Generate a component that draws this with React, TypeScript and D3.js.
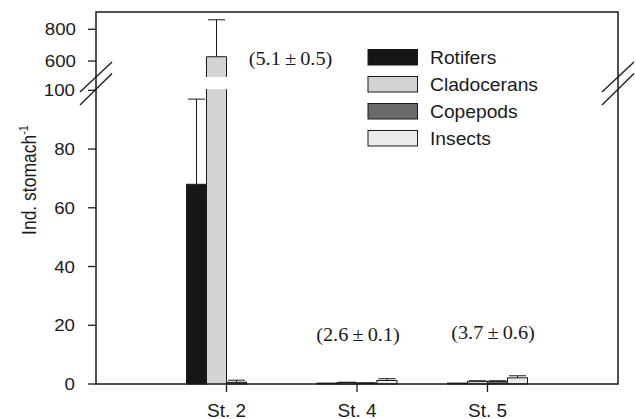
import React from "react";
import * as d3 from "d3";

// stations and prey groups
const stations = ["St. 2", "St. 4", "St. 5"];
const taxa = ["Rotifers", "Cladocerans", "Copepods", "Insects"];

// mean individuals per stomach, per station
const rotifers = [68, 0.3, 0.3];
const cladocerans = [627, 0.5, 0.9];
const copepods = [0.6, 0.3, 0.9];
const insects = [0, 1.2, 2.1];

// standard errors
const rotifersErr = [29, 0, 0];
const cladoceransErr = [233, 0.1, 0.2];
const copepodsErr = [0.7, 0.1, 0.2];
const insectsErr = [0, 0.6, 0.7];

const lowerTicks = [0, 20, 40, 60, 80, 100];
const upperTicks = [600, 800];
const totals = ["(5.1\u2009\u00b1\u20090.5)", "(2.6\u2009\u00b1\u20090.1)", "(3.7\u2009\u00b1\u20090.6)"];

const colors = ["#161616", "#d4d4d4", "#6a6a6a", "#ebebeb"];
const means = [rotifers, cladocerans, copepods, insects];
const errs = [rotifersErr, cladoceransErr, copepodsErr, insectsErr];

const W = 636;
const H = 419;
const left = 96;
const right = 618;
const top = 12;
const bottom = 384;
const lowerMax = 100.4;
const upperMin = 500;

const sans = "'Liberation Sans', Arial, sans-serif";
const serif = "'Liberation Serif', 'Times New Roman', serif";

const x = d3.scalePoint<string>().domain(stations).range([left, right]).padding(1);
const inner = d3.scaleBand<string>().domain(taxa).range([-40, 40]);
const yLow = d3.scaleLinear().domain([0, 100]).range([bottom, 90.3]);
const yUp = d3.scaleLinear().domain([upperMin, 909]).range([76.9, top]);
const y = (v: number) => (v <= lowerMax ? yLow(v) : yUp(v));

// annotation placement relative to station centre
const noteDx = [64, 1, 5.5];
const noteY = [65, 341, 339];

const Txt = ({ x0, y0, size, anchor, family, sx = 1.1, children }: any) => (
  <text
    transform={`translate(${x0},${y0}) scale(${sx},1)`}
    fontSize={size}
    fontFamily={family}
    textAnchor={anchor}
    fill="#1a1a1a"
  >
    {children}
  </text>
);

const Bars = () => {
  const out: any[] = [];
  stations.forEach((st, si) => {
    taxa.forEach((t, ti) => {
      const v = means[ti][si];
      const e = errs[ti][si];
      if (v <= 0) return;
      const x0 = x(st)! + inner(t)!;
      const bw = inner.bandwidth();
      const cx = x0 + bw / 2;
      const key = `${si}-${ti}`;
      if (v > lowerMax) {
        const lt = yLow(lowerMax);
        const ub = yUp(upperMin);
        const ut = yUp(v);
        out.push(
          <g key={key}>
            <rect x={x0} y={lt} width={bw} height={bottom - lt} fill={colors[ti]} />
            <path d={`M${x0},${bottom}V${lt}M${x0 + bw},${lt}V${bottom}`} stroke="#1a1a1a" fill="none" />
            <rect x={x0} y={ut} width={bw} height={ub - ut} fill={colors[ti]} />
            <path d={`M${x0},${ub}V${ut}H${x0 + bw}V${ub}`} stroke="#1a1a1a" fill="none" />
            <path d={`M${cx},${ut}V${y(v + e)}M${cx - 8.5},${y(v + e)}H${cx + 8.5}`} stroke="#1a1a1a" fill="none" />
          </g>
        );
      } else {
        const yt = y(v);
        out.push(
          <g key={key}>
            <rect x={x0} y={yt} width={bw} height={bottom - yt} fill={colors[ti]} stroke="#1a1a1a" strokeWidth={1} />
            {e > 0 && (
              <path d={`M${cx},${yt}V${y(v + e)}M${cx - 8.5},${y(v + e)}H${cx + 8.5}`} stroke="#1a1a1a" fill="none" />
            )}
          </g>
        );
      }
    });
  });
  return <g>{out}</g>;
};

const App = () => {
  const slash = (cx: number) => (
    <g stroke="#1a1a1a" strokeWidth={1.3}>
      <line x1={cx - 16} y1={92} x2={cx + 16} y2={62} />
      <line x1={cx - 16} y1={105} x2={cx + 16} y2={73.5} />
    </g>
  );
  return (
    <div style={{ position: "absolute", left: 0, top: 0 }}>
      <svg width={W} height={H} style={{ display: "block", background: "#fff" }}>
        <Bars />
        {/* frame */}
        <path
          d={`M${left},${top}H${right}V${bottom}H${left}Z`}
          fill="none"
          stroke="#1a1a1a"
          strokeWidth={1.5}
        />
        {slash(left)}
        {slash(right)}
        {/* y ticks */}
        {lowerTicks.map((t) => (
          <g key={`l${t}`}>
            <line x1={left - 8} x2={left} y1={yLow(t)} y2={yLow(t)} stroke="#1a1a1a" strokeWidth={1.3} />
            <Txt x0={left - 21} y0={yLow(t) + 6} size={17} sx={1.1} anchor="end" family={sans}>
              {t}
            </Txt>
          </g>
        ))}
        {upperTicks.map((t) => (
          <g key={`u${t}`}>
            <line x1={left - 8} x2={left} y1={yUp(t)} y2={yUp(t)} stroke="#1a1a1a" strokeWidth={1.3} />
            <Txt x0={left - 20} y0={yUp(t) + 6} size={17} sx={1.1} anchor="end" family={sans}>
              {t}
            </Txt>
          </g>
        ))}
        {/* x ticks */}
        {stations.map((s) => (
          <g key={s}>
            <line x1={x(s)} x2={x(s)} y1={bottom} y2={bottom + 8} stroke="#1a1a1a" strokeWidth={1.3} />
            <Txt x0={x(s)} y0={bottom + 32.5} size={19} sx={1} anchor="middle" family={sans}>
              {s}
            </Txt>
          </g>
        ))}
        {/* y label */}
        <text
          transform={`translate(35.5,180) scale(1.12,1) rotate(-90)`}
          fontSize={17.5}
          fontFamily={sans}
          textAnchor="middle"
          fill="#1a1a1a"
        >
          Ind. stomach
          <tspan fontSize={11} dy={-7}>-1</tspan>
        </text>
        {/* totals */}
        {stations.map((s, i) => (
          <Txt key={`n${s}`} x0={x(s)! + noteDx[i]} y0={noteY[i]} size={18.5} sx={1.1} anchor="middle" family={serif}>
            {totals[i]}
          </Txt>
        ))}
        {/* legend */}
        {taxa.map((t, i) => (
          <g key={t} transform={`translate(368,${49.5 + i * 27})`}>
            <rect x={0} y={0} width={49.5} height={15.5} fill={colors[i]} stroke="#1a1a1a" strokeWidth={1} />
            <Txt x0={62} y0={14.5} size={17.5} sx={1.1} anchor="start" family={sans}>
              {t}
            </Txt>
          </g>
        ))}
      </svg>
    </div>
  );
};

export default App;
